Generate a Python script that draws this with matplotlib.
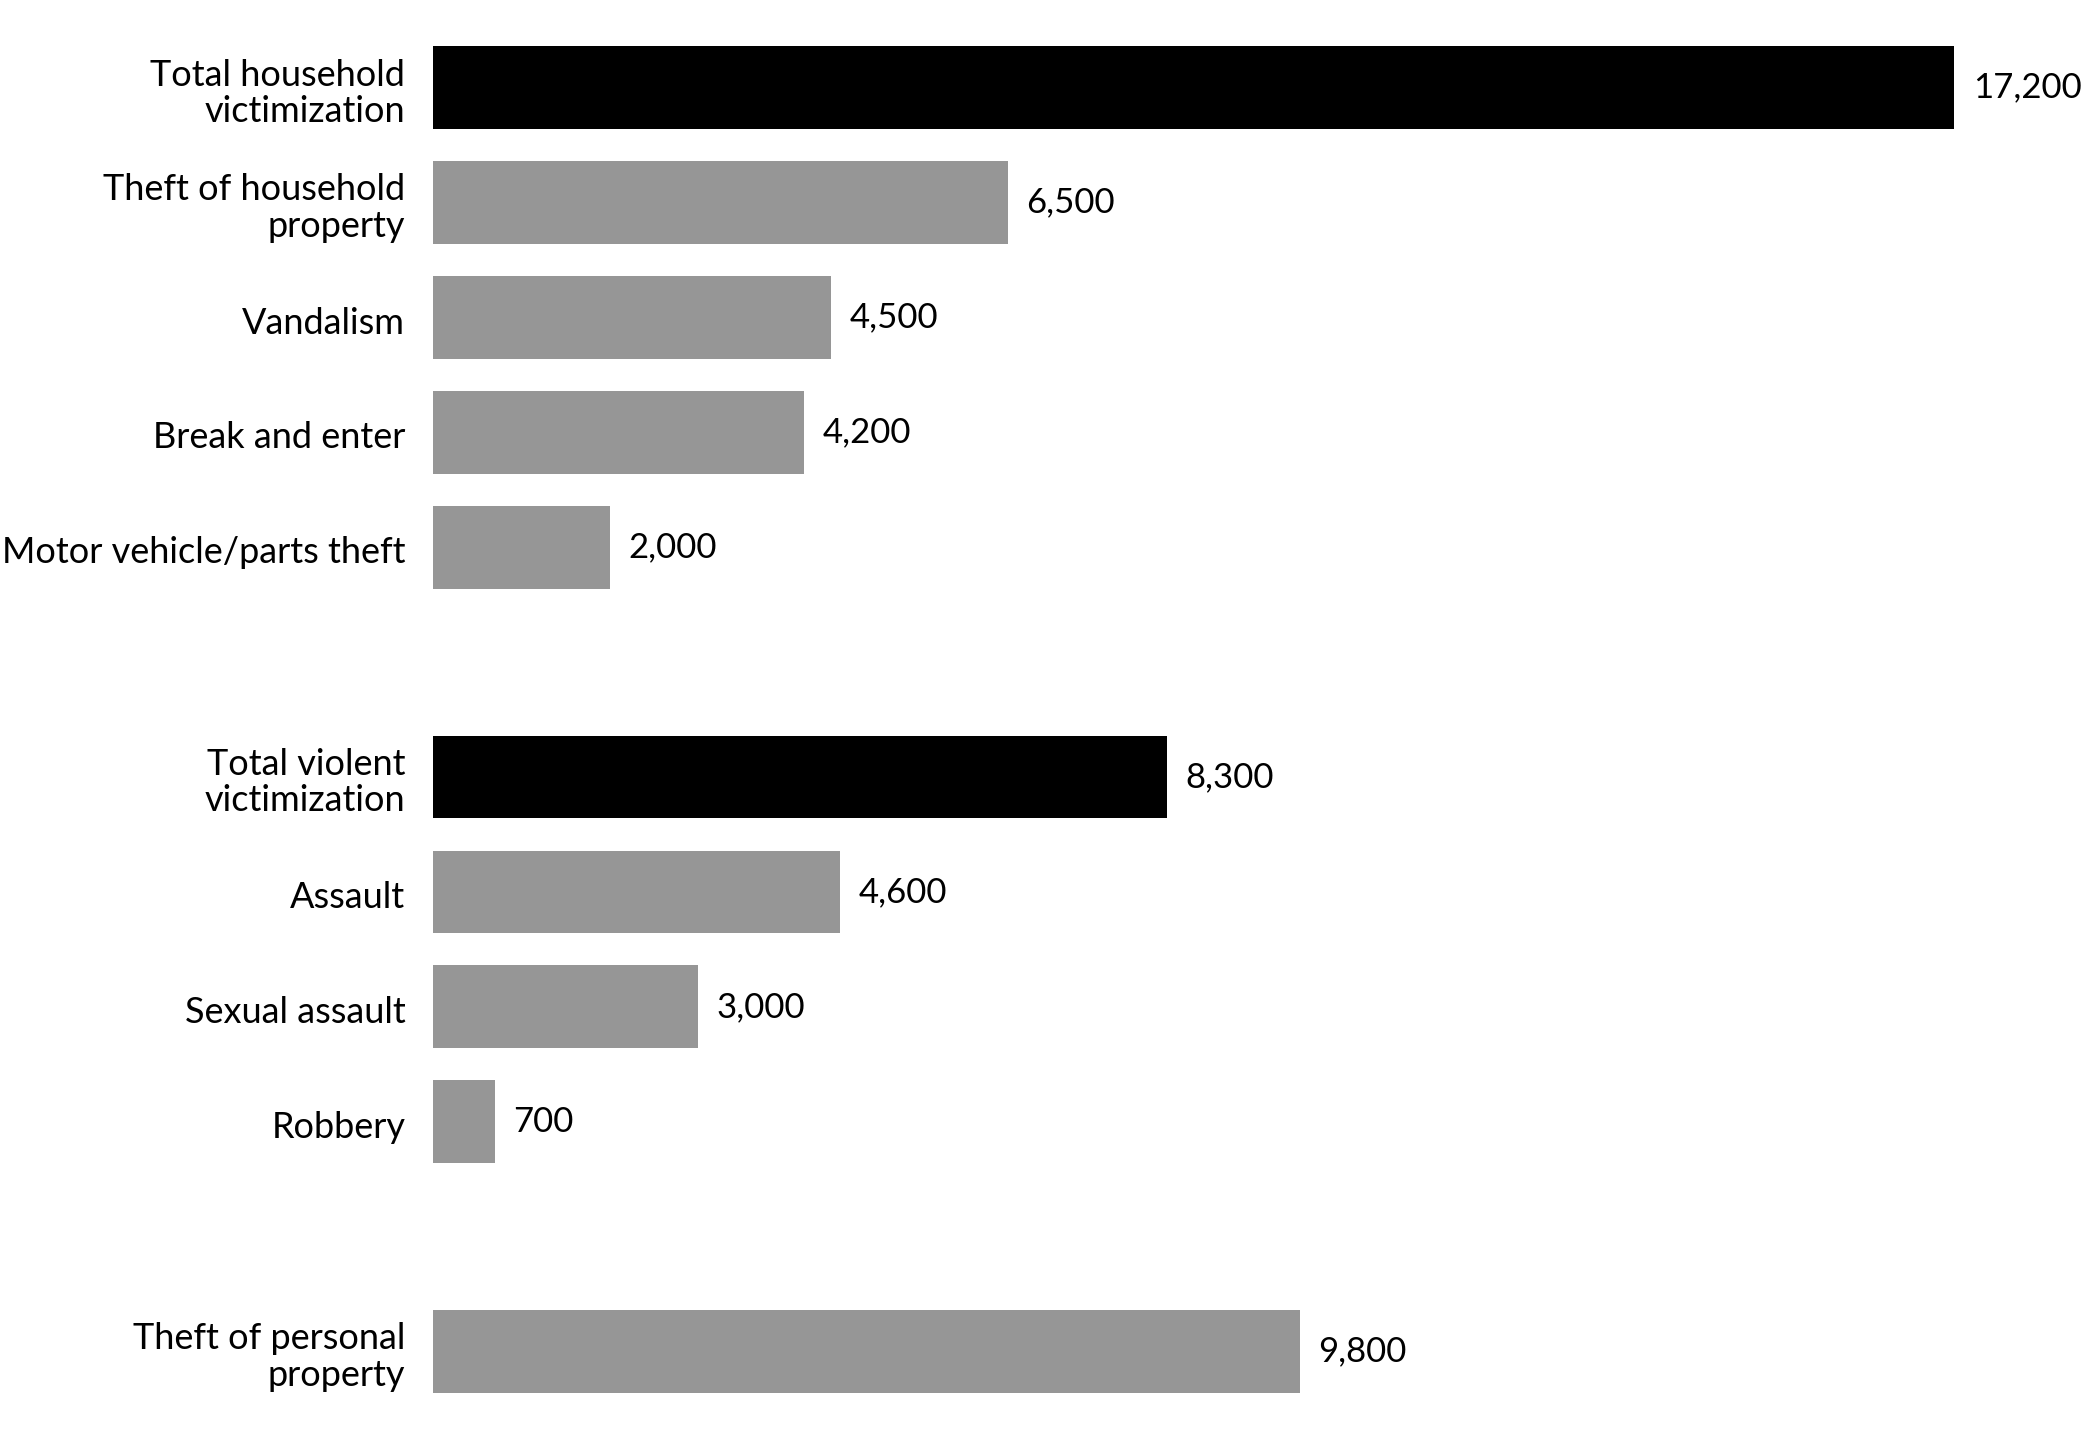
import matplotlib
matplotlib.use("Agg")
import matplotlib.pyplot as plt

# categories, top to bottom
labels = ["Total household\nvictimization", "Theft of household\nproperty", "Vandalism",
          "Break and enter", "Motor vehicle/parts theft",
          "Total violent\nvictimization", "Assault", "Sexual assault", "Robbery",
          "Theft of personal\nproperty"]
values = [17200, 6500, 4500, 4200, 2000, 8300, 4600, 3000, 700, 9800]
is_total = [True, False, False, False, False, True, False, False, False, False]
# slot positions (gaps between groups)
positions = [0, 1, 2, 3, 4, 6, 7, 8, 9, 11]

plt.rcParams['font.family'] = ['Lato', 'DejaVu Sans']

fig = plt.figure(figsize=(20.83, 14.4), dpi=100)
ax = fig.add_axes([326 / 1568, 0, 1 - 326 / 1568, 1])

colors = ["#000000" if t else "#969696" for t in is_total]
ax.barh(positions, values, height=0.72, color=colors)

for p, v in zip(positions, values):
    ax.text(v + 210, p, f"{v:,}", va="center", ha="left", fontsize=25)

# category labels, slightly below bar centre like the original
for p, lab in zip(positions, labels):
    ax.annotate(lab, xy=(0, p), xycoords="data", xytext=(-20, -4),
                textcoords="offset points", ha="right", va="center",
                fontsize=26, linespacing=1.12, annotation_clip=False)

ax.set_xlim(0, 18657)
ax.set_ylim(11.77, -0.763)
ax.set_yticks([])
ax.set_xticks([])
for s in ax.spines.values():
    s.set_visible(False)

fig.savefig("out.png", dpi=100)
